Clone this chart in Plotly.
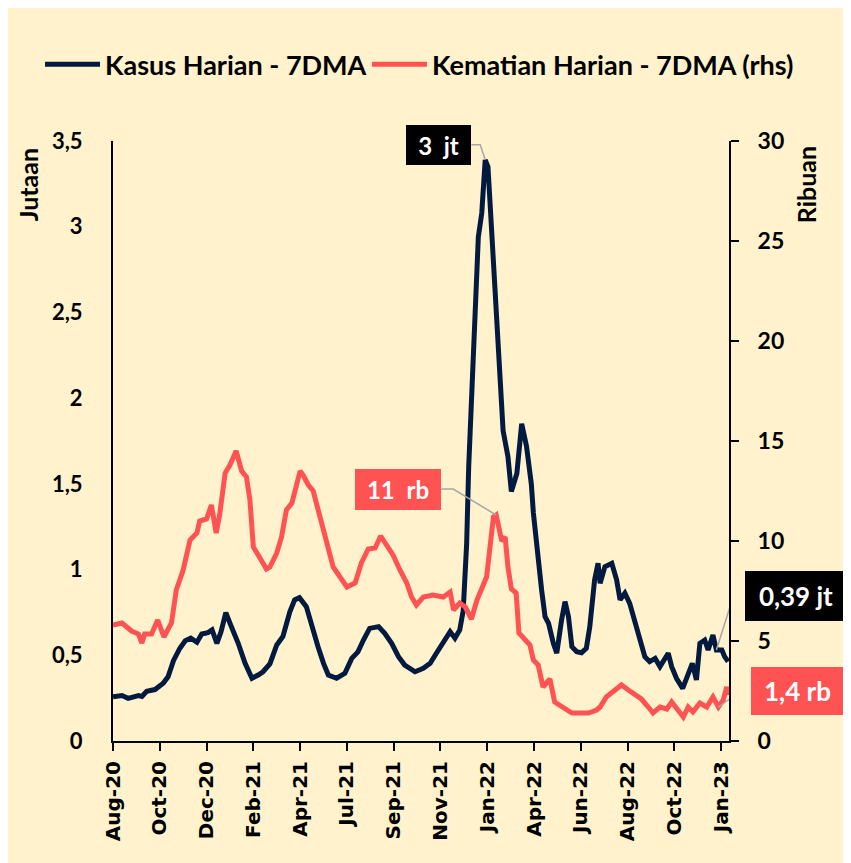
import plotly.graph_objects as go

# ---------------- data ----------------
case_dates = [
    "2020-08-01", "2020-08-14", "2020-08-23", "2020-09-07", "2020-09-12", "2020-09-19",
    "2020-10-01", "2020-10-13", "2020-10-20", "2020-10-28", "2020-11-06", "2020-11-14",
    "2020-11-22", "2020-12-01", "2020-12-08", "2020-12-17", "2020-12-23", "2020-12-30",
    "2021-01-05", "2021-01-12", "2021-01-20", "2021-01-30", "2021-02-09", "2021-02-19",
    "2021-02-28", "2021-03-07", "2021-03-17", "2021-03-27", "2021-04-05", "2021-04-15",
    "2021-04-22", "2021-04-29", "2021-05-09", "2021-05-17", "2021-05-26", "2021-06-03",
    "2021-06-10", "2021-06-22", "2021-07-04", "2021-07-14", "2021-07-23", "2021-07-31",
    "2021-08-09", "2021-08-22", "2021-08-31", "2021-09-10", "2021-09-20", "2021-09-29",
    "2021-10-14", "2021-10-26", "2021-11-05", "2021-11-14", "2021-11-24", "2021-12-04",
    "2021-12-11", "2021-12-18", "2021-12-23", "2021-12-28", "2021-12-31", "2022-01-04",
    "2022-01-09", "2022-01-14", "2022-01-19", "2022-01-24", "2022-01-28", "2022-02-02",
    "2022-02-07", "2022-02-12", "2022-02-19", "2022-02-26", "2022-03-03", "2022-03-11",
    "2022-03-18", "2022-03-25", "2022-04-01", "2022-04-04", "2022-04-09", "2022-04-16",
    "2022-04-21", "2022-04-26", "2022-05-03", "2022-05-08", "2022-05-15", "2022-05-20",
    "2022-05-25", "2022-05-30", "2022-06-06", "2022-06-13", "2022-06-20", "2022-06-25",
    "2022-07-02", "2022-07-07", "2022-07-10", "2022-07-17", "2022-07-27", "2022-08-03",
    "2022-08-08", "2022-08-15", "2022-08-22", "2022-08-30", "2022-09-06", "2022-09-13",
    "2022-09-20", "2022-09-28", "2022-10-05", "2022-10-12", "2022-10-17", "2022-10-22",
    "2022-10-29", "2022-11-07", "2022-11-14", "2022-11-21", "2022-11-27", "2022-12-02",
    "2022-12-09", "2022-12-14", "2022-12-21", "2022-12-26", "2023-01-03", "2023-01-07",
    "2023-01-12",
]
cases_millions = [
    0.258, 0.265, 0.249, 0.265, 0.260, 0.290,
    0.300, 0.337, 0.375, 0.470, 0.540, 0.585,
    0.600, 0.576, 0.624, 0.632, 0.648, 0.570,
    0.637, 0.749, 0.667, 0.570, 0.453, 0.366,
    0.385, 0.404, 0.450, 0.560, 0.610, 0.754,
    0.823, 0.836, 0.784, 0.667, 0.550, 0.453,
    0.385, 0.366, 0.395, 0.482, 0.520, 0.589,
    0.657, 0.667, 0.628, 0.570, 0.492, 0.443,
    0.404, 0.424, 0.453, 0.512, 0.570, 0.638,
    0.600, 0.648, 0.760, 1.150, 1.600, 2.010,
    2.590, 2.940, 3.080, 3.390, 3.350, 2.980,
    2.590, 2.200, 1.810, 1.660, 1.455, 1.560,
    1.850, 1.720, 1.500, 1.330, 1.130, 0.880,
    0.725, 0.687, 0.570, 0.512, 0.706, 0.813,
    0.725, 0.550, 0.521, 0.515, 0.541, 0.667,
    0.940, 1.037, 0.920, 1.017, 1.037, 0.940,
    0.823, 0.862, 0.803, 0.687, 0.570, 0.492,
    0.463, 0.482, 0.434, 0.482, 0.512, 0.434,
    0.366, 0.307, 0.375, 0.453, 0.356, 0.570,
    0.589, 0.531, 0.618, 0.531, 0.531, 0.492,
    0.463,
]

death_dates = [
    "2020-08-01", "2020-08-14", "2020-08-28", "2020-09-07", "2020-09-12", "2020-09-16",
    "2020-09-26", "2020-10-05", "2020-10-14", "2020-10-25", "2020-11-01", "2020-11-11",
    "2020-11-21", "2020-12-01", "2020-12-05", "2020-12-15", "2020-12-22", "2020-12-29",
    "2021-01-03", "2021-01-11", "2021-01-18", "2021-01-27", "2021-02-04", "2021-02-11",
    "2021-02-16", "2021-02-21", "2021-02-28", "2021-03-12", "2021-03-17", "2021-03-27",
    "2021-04-03", "2021-04-10", "2021-04-18", "2021-04-22", "2021-04-30", "2021-05-05",
    "2021-05-12", "2021-05-19", "2021-05-26", "2021-06-03", "2021-06-10", "2021-06-17",
    "2021-06-27", "2021-07-07", "2021-07-19", "2021-07-28", "2021-08-07", "2021-08-17",
    "2021-08-25", "2021-09-03", "2021-09-12", "2021-09-22", "2021-10-02", "2021-10-09",
    "2021-10-16", "2021-10-26", "2021-11-09", "2021-11-24", "2021-12-04", "2021-12-09",
    "2021-12-18", "2021-12-26", "2022-01-04", "2022-01-12", "2022-01-19", "2022-01-26",
    "2022-01-31", "2022-02-05", "2022-02-09", "2022-02-13", "2022-02-17", "2022-02-22",
    "2022-02-26", "2022-03-03", "2022-03-10", "2022-03-14", "2022-03-23", "2022-03-30",
    "2022-04-04", "2022-04-11", "2022-04-18", "2022-04-28", "2022-05-05", "2022-05-17",
    "2022-05-30", "2022-06-11", "2022-06-23", "2022-07-05", "2022-07-10", "2022-07-19",
    "2022-07-29", "2022-08-10", "2022-08-20", "2022-08-30", "2022-09-08", "2022-09-18",
    "2022-09-25", "2022-10-05", "2022-10-15", "2022-10-22", "2022-11-01", "2022-11-08",
    "2022-11-15", "2022-11-22", "2022-12-02", "2022-12-12", "2022-12-21", "2022-12-29",
    "2023-01-05", "2023-01-10", "2023-01-13",
]
deaths_thousands = [
    5.80, 5.90, 5.50, 5.35, 4.90, 5.35,
    5.35, 6.05, 5.20, 5.90, 7.55, 8.55,
    10.05, 10.40, 11.00, 11.10, 11.80, 10.40,
    11.30, 13.40, 13.80, 14.50, 13.50, 13.20,
    12.05, 9.70, 9.30, 8.60, 8.70, 9.40,
    10.20, 11.55, 11.90, 12.40, 13.50, 13.25,
    12.80, 12.50, 11.55, 10.55, 9.55, 8.70,
    8.20, 7.70, 7.90, 8.90, 9.60, 9.65,
    10.25, 9.80, 9.30, 8.55, 7.90, 7.20,
    6.80, 7.20, 7.30, 7.20, 7.45, 6.55,
    6.90, 6.70, 6.10, 7.05, 7.60, 8.20,
    9.70, 11.20, 11.30, 10.70, 10.00, 10.20,
    8.70, 7.60, 7.40, 5.40, 5.05, 4.80,
    4.05, 3.80, 2.70, 3.10, 1.95, 1.70,
    1.40, 1.40, 1.40, 1.55, 1.70, 2.20,
    2.45, 2.80, 2.55, 2.30, 2.10, 1.70,
    1.40, 1.70, 1.60, 1.95, 1.55, 1.20,
    1.70, 1.45, 1.90, 1.70, 2.20, 1.70,
    2.05, 2.70, 2.30,
]

tick_dates = [
    "2020-08-01", "2020-10-08", "2020-12-15", "2021-02-21", "2021-04-30", "2021-07-07",
    "2021-09-13", "2021-11-20", "2022-01-27", "2022-04-05", "2022-06-12", "2022-08-19",
    "2022-10-26", "2023-01-02",
]
tick_labels = [
    "Aug-20", "Oct-20", "Dec-20", "Feb-21", "Apr-21", "Jul-21", "Sep-21", "Nov-21",
    "Jan-22", "Apr-22", "Jun-22", "Aug-22", "Oct-22", "Jan-23",
]

series_names = ["Kasus Harian - 7DMA", "Kematian Harian - 7DMA (rhs)"]

# annotation callouts (text, anchor date)
peak_case_label = "3  jt"
peak_death_label = "11  rb"
peak_death_date = "2022-02-09"
last_case_label = "0,39 jt"
last_case_date = "2022-12-26"
last_death_label = "1,4 rb"
last_death_date = "2022-12-29"

# ---------------- styling ----------------
BG = "#FFF2CC"
NAVY = "#021A40"
RED = "#FF5252"
GREY = "#A6A6A6"
FONT = "Lato"

fig = go.Figure()
fig.add_trace(go.Scatter(
    x=case_dates, y=cases_millions, name=series_names[0], mode="lines",
    line=dict(color=NAVY, width=5), yaxis="y", legend="legend",
))
fig.add_trace(go.Scatter(
    x=death_dates, y=deaths_thousands, name=series_names[1], mode="lines",
    line=dict(color=RED, width=5), yaxis="y2", legend="legend2",
))

# peak / last positions come from the data
i_peak = cases_millions.index(max(cases_millions))
peak_case_x, peak_case_y = case_dates[i_peak], cases_millions[i_peak]
pd_x = peak_death_date
pd_y = deaths_thousands[death_dates.index(peak_death_date)]
lc_x = last_case_date
lc_y = cases_millions[case_dates.index(last_case_date)]
ld_x = last_death_date
ld_y = deaths_thousands[death_dates.index(last_death_date)]

callouts = [
    # text, x, y, yref, bg, xanchor, xshift, yshift, width, height, fontsize, leader path
    (peak_case_label, peak_case_x, peak_case_y, "y", "black", "right", -14, 15, 65, 40, 24,
     "M0,0 L-5,15 L-14,15"),
    (peak_death_label, pd_x, pd_y, "y2", RED, "right", -55, 26, 86, 41, 24,
     "M0,0 L-43,26 L-55,26"),
    (last_case_label, lc_x, lc_y, "y", "black", "left", 29, 54, 102, 50, 26,
     "M0,0 L17,54 L29,54"),
    (last_death_label, ld_x, ld_y, "y2", RED, "left", 33, 16, 93, 48, 26,
     "M0,0 L22,16 L33,16"),
]

annotations = []
shapes = []
for (txt, x, y, yref, bg, xa, xs, ys, w, h, fs, path) in callouts:
    annotations.append(dict(
        x=x, y=y, xref="x", yref=yref, text=txt, showarrow=False,
        xanchor=xa, yanchor="middle", xshift=xs, yshift=ys,
        width=w, height=h, bgcolor=bg, borderpad=0, borderwidth=0,
        align="center", valign="middle",
        font=dict(family=FONT, size=fs, color="white", weight="bold"),
    ))
    shapes.append(dict(
        type="path", xref="x", yref=yref, xsizemode="pixel", ysizemode="pixel",
        xanchor=x, yanchor=y, path=path, line=dict(color=GREY, width=1.5), layer="above",
    ))

# axis unit titles
annotations.append(dict(
    x=-0.139, y=0.927, xref="paper", yref="paper", text="Jutaan", textangle=-90,
    showarrow=False, xanchor="center", yanchor="middle",
    font=dict(family=FONT, size=25, color="black", weight="bold"),
))
annotations.append(dict(
    x=1.124, y=0.927, xref="paper", yref="paper", text="Ribuan", textangle=-90,
    showarrow=False, xanchor="center", yanchor="middle",
    font=dict(family=FONT, size=25, color="black", weight="bold"),
))

legend_style = dict(
    orientation="h", xanchor="left", y=1.127, yanchor="middle",
    bgcolor="rgba(0,0,0,0)", borderwidth=0,
    font=dict(family=FONT, size=27, color="black", weight="bold"),
    itemwidth=55,
)

fig.update_layout(
    width=843, height=855,
    margin=dict(l=105, r=122, t=133, b=122, pad=0),
    paper_bgcolor=BG, plot_bgcolor=BG,
    separators=",.",
    showlegend=True,
    legend=dict(x=-0.1185, **legend_style),
    legend2=dict(x=0.4123, **legend_style),
    xaxis=dict(
        type="date", range=["2020-08-01", "2023-01-13 08:00"],
        tickmode="array", tickvals=tick_dates, ticktext=tick_labels,
        tickangle=-90, ticks="outside", ticklen=8, tickwidth=2, tickcolor="black",
        showline=True, linecolor="black", linewidth=2, showgrid=False, zeroline=False,
        tickfont=dict(family="DejaVu Sans", size=20, color="black", weight="bold"),
        ticklabelstandoff=2,
    ),
    yaxis=dict(
        range=[0, 3.5], dtick=0.5, tick0=0, showline=True, linecolor="black", linewidth=2,
        ticks="", showgrid=False, zeroline=False,
        tickfont=dict(family=FONT, size=22, color="black", weight="bold"),
        ticklabelstandoff=24,
    ),
    yaxis2=dict(
        range=[0, 30], dtick=5, tick0=0, overlaying="y", side="right",
        showline=True, linecolor="black", linewidth=2,
        ticks="outside", ticklen=8, tickwidth=2, tickcolor="black",
        showgrid=False, zeroline=False,
        tickfont=dict(family=FONT, size=23, color="black", weight="bold"),
        ticklabelstandoff=14,
    ),
    annotations=annotations,
    shapes=shapes,
)

fig.write_html("out.html")
